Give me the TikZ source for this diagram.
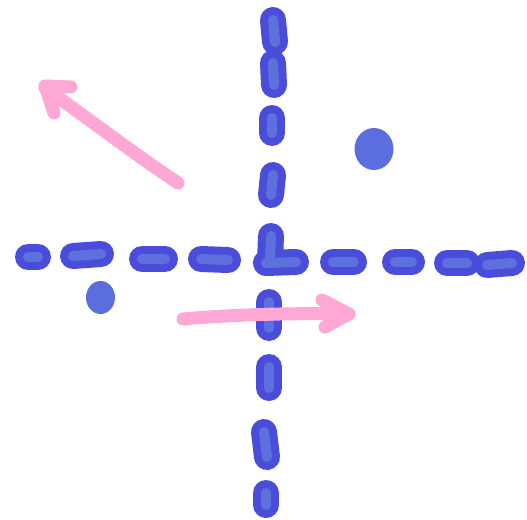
\documentclass[tikz,border=0pt]{standalone}
\begin{document}
\begin{tikzpicture}[x=1pt,y=-1pt,
  dashstroke/.style={draw=axisout,double=axisin,line width=8pt,double distance=10pt,line cap=round,line join=round},
  pinkstroke/.style={draw=pinkc,line width=13pt,line cap=round,line join=round},
  dotfill/.style={fill=dotc}]
\definecolor{axisout}{RGB}{74,77,217}
\definecolor{axisin}{RGB}{93,112,222}
\definecolor{pinkc}{RGB}{255,168,213}
\definecolor{dotc}{RGB}{90,110,221}
\useasboundingbox (0,0) rectangle (527,519);
% horizontal dashes
\draw[dashstroke] (28,257) -- (38,257);
\draw[dashstroke] (73,256) -- (101,254);
\draw[dashstroke] (142,259) -- (165,259);
\draw[dashstroke] (201,259) -- (228,260);
\draw[dashstroke] (333,262) -- (354,262);
\draw[dashstroke] (395,262) -- (412,262);
\draw[dashstroke] (447,263) -- (467,263);
\draw[dashstroke] (487,265) -- (512,263);
% center L
\draw[dashstroke] (271,236) -- (270,261) -- (266,263) -- (296,262);
% vertical dashes
\draw[dashstroke] (273,20) -- (275,42);
\draw[dashstroke] (273,63) -- (274,85);
\draw[dashstroke] (272,118) -- (272,133);
\draw[dashstroke] (273,175) -- (271,195);
\draw[dashstroke] (269,302) -- (269,328);
\draw[dashstroke] (269,367) -- (269,388);
\draw[dashstroke] (264,432) -- (267,457);
\draw[dashstroke] (266,493) -- (266,505);
% dots
\fill[dotfill] (374,149) ellipse [x radius=19.5, y radius=21];
\fill[dotfill] (100.5,297.5) ellipse [x radius=14.5, y radius=16.5];
% pink arrows
\draw[pinkstroke] (178,183) .. controls (140,158) and (90,120) .. (45,88);
\draw[pinkstroke] (71,87) -- (45,86) -- (54,113);
\draw[pinkstroke] (183,319) .. controls (240,314) and (300,313) .. (349,314);
\draw[pinkstroke] (322,300) -- (349,314) -- (325,327);
\end{tikzpicture}
\end{document}
